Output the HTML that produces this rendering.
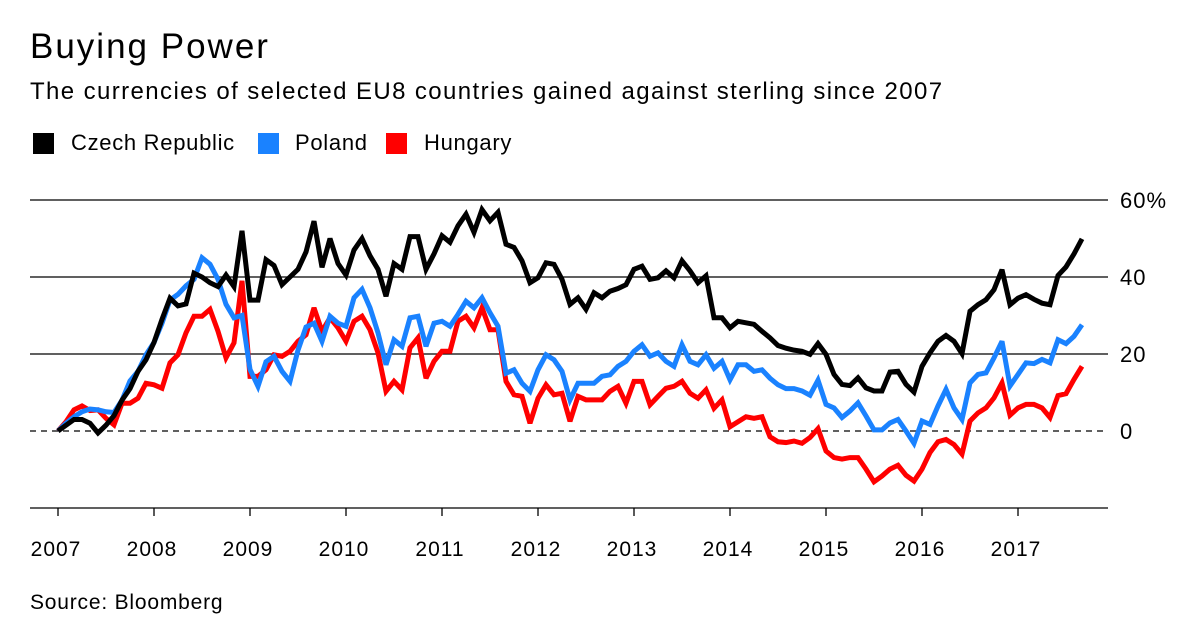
<!DOCTYPE html>
<html><head><meta charset="utf-8"><style>
body{margin:0;background:#fff;font-family:"Liberation Sans",sans-serif;color:#000}
#wrap{position:relative;width:1200px;height:637px;overflow:hidden}
.t{position:absolute;white-space:nowrap}
.sw{position:absolute;width:21px;height:21px;top:133px}
</style></head><body><div id="wrap">
<div class="t" style="left:30px;top:27px;font-size:35px;letter-spacing:2px">Buying Power</div>
<div class="t" style="left:30px;top:78px;font-size:24px;letter-spacing:1.4px">The currencies of selected EU8 countries gained against sterling since 2007</div>
<div class="sw" style="left:33px;background:#000"></div>
<div class="t" style="left:71px;top:130px;font-size:22px;letter-spacing:0.7px">Czech Republic</div>
<div class="sw" style="left:258px;background:#1a82ff"></div>
<div class="t" style="left:295px;top:130px;font-size:22px;letter-spacing:0.7px">Poland</div>
<div class="sw" style="left:386px;background:#ff0000"></div>
<div class="t" style="left:424px;top:130px;font-size:22px;letter-spacing:0.7px">Hungary</div>
<svg id="chart" width="1200" height="637" style="position:absolute;left:0;top:0"></svg>
<div class="t" style="left:30px;top:591px;font-size:21px;letter-spacing:0.8px">Source: Bloomberg</div>
</div>
<script>
const yTicks=[0,20,40,60];
const yTickLabels=["0","20","40","60%"];
const years=[2007,2008,2009,2010,2011,2012,2013,2014,2015,2016,2017];
const czech=[0,1.5,3,3,2,-0.5,1.5,4,8,11,15.5,18.5,23,29,34.5,32.5,33,41,40,38.5,37.5,40.5,37.5,52,34,34,44.5,43,38,40,42,46.5,54.5,42.5,50,43.5,40.5,47,50,45.5,42,35,43.5,42,50.5,50.5,42,46,50.7,49,53.3,56.3,51.6,57.5,54.6,56.8,48.5,47.7,44.2,38.5,39.8,43.7,43.3,39.4,32.9,34.6,31.6,35.9,34.6,36.3,37,38,42,42.8,39.4,39.8,41.6,39.8,44.2,41.6,38.5,40.3,29.4,29.4,26.8,28.5,28.1,27.7,25.9,24.2,22.2,21.5,21,20.7,19.9,22.7,19.9,14.7,12.1,11.8,13.8,11.2,10.4,10.4,15.3,15.5,12.1,10.1,16.8,20.3,23.3,24.8,23.3,20.1,31.1,32.8,34.1,36.7,41.9,32.8,34.5,35.4,34.2,33.2,32.8,40.4,42.6,46,49.9];
const poland=[0,2,3.7,5,5.7,5.5,5,4.8,8,13,15.5,19.8,23,28,34,35.5,37.7,39.4,45,43.3,39.4,32.9,29.4,30,16,11.6,18,19.4,15.5,12.9,21,27,28,23.3,29.8,28,27.2,34.6,36.8,32,25.5,17.2,23.7,22,29.4,29.8,22,28,28.5,27.2,30.3,33.7,32,34.6,30.7,27.2,15,15.9,12.4,10.3,15.9,19.8,18.5,15.5,8.1,12.4,12.4,12.4,14.2,14.6,16.8,18.1,20.7,22.4,19.4,20.3,18.1,16.8,22.4,18.1,17.2,19.8,16.3,18.1,13.3,17.2,17.2,15.5,15.9,13.7,12,11,11,10.4,9.3,13.2,6.9,6,3.5,5.2,7.3,3.9,0.3,0.3,2.1,3,0,-3.2,2.6,1.7,6.5,10.8,6,3,12.5,14.7,15.1,19,23.3,11.7,14.7,17.7,17.5,18.6,17.7,23.7,22.7,24.6,27.6];
const hungary=[0,2.4,5.5,6.5,5.3,5.5,3.3,1.6,7.2,7.2,8.5,12.4,12,11.1,17.7,19.8,25.5,29.8,29.8,31.6,25.9,19,22.9,39,14.2,14.2,15.9,19.8,19.4,20.7,23.3,25,32,25.9,29.4,26.8,23.3,28.5,29.8,26.3,20.3,10.3,12.9,10.7,21.6,24.2,13.7,18.1,20.7,20.7,28.5,29.8,26.8,32,26.3,26.3,12.9,9.4,9,2,8.5,12,9.4,9.8,2.5,9,8.1,8.1,8.1,10.3,11.6,7.2,12.9,12.9,6.8,9,11.1,11.6,12.9,9.8,8.5,10.7,5.9,8.1,1.1,2.4,3.7,3.3,3.7,-1.5,-2.8,-3,-2.6,-3.2,-1.7,0.6,-5.2,-6.9,-7.3,-6.9,-6.9,-9.9,-13.2,-11.7,-9.9,-8.9,-11.5,-13,-9.9,-5.6,-2.8,-2.2,-3.5,-6,2.6,4.7,6,8.6,12.5,4.1,6,6.9,6.9,6,3.5,9.2,9.7,13.4,16.8];
const svg=document.getElementById('chart');
const NS='http://www.w3.org/2000/svg';
const yS=v=>431-v*3.85;
const xS=k=>58+k*8;
function mk(tag,attrs){const e=document.createElementNS(NS,tag);for(const a in attrs)e.setAttribute(a,attrs[a]);svg.appendChild(e);return e;}
yTicks.forEach((v,i)=>{
  const l=mk('line',{x1:30,x2:1108,y1:yS(v),y2:yS(v),stroke:'#000','stroke-width':v===0?1.2:1.3,'stroke-dasharray':v===0?'6,5':'none'});
  
  
  const t=mk('text',{x:1120,y:yS(v)+8,'font-size':22,'letter-spacing':1,'font-family':'Liberation Sans, sans-serif'});
  t.textContent=yTickLabels[i];
  
  
});
const ax=mk('line',{x1:30,x2:1108,y1:508,y2:508,stroke:'#000','stroke-width':1.3});


years.forEach(y=>{
  const x=xS((y-2007)*12);
  const tk=mk('line',{x1:x,x2:x,y1:508,y2:516,stroke:'#000','stroke-width':1.3});
  
  
  const t=mk('text',{x:x-2,y:556,'font-size':21,'letter-spacing':1,'text-anchor':'middle','font-family':'Liberation Sans, sans-serif'});
  t.textContent=y;
  
  
});
[[hungary,'#ff0000','hungary'],[poland,'#1a82ff','poland'],[czech,'#000','czech']].forEach(([d,c,n])=>{
  const p=mk('polyline',{points:d.map((v,k)=>xS(k)+','+yS(v)).join(' '),fill:'none',stroke:c,'stroke-width':5,'stroke-linejoin':'miter','stroke-miterlimit':3});
  
  
});
</script></body></html>
